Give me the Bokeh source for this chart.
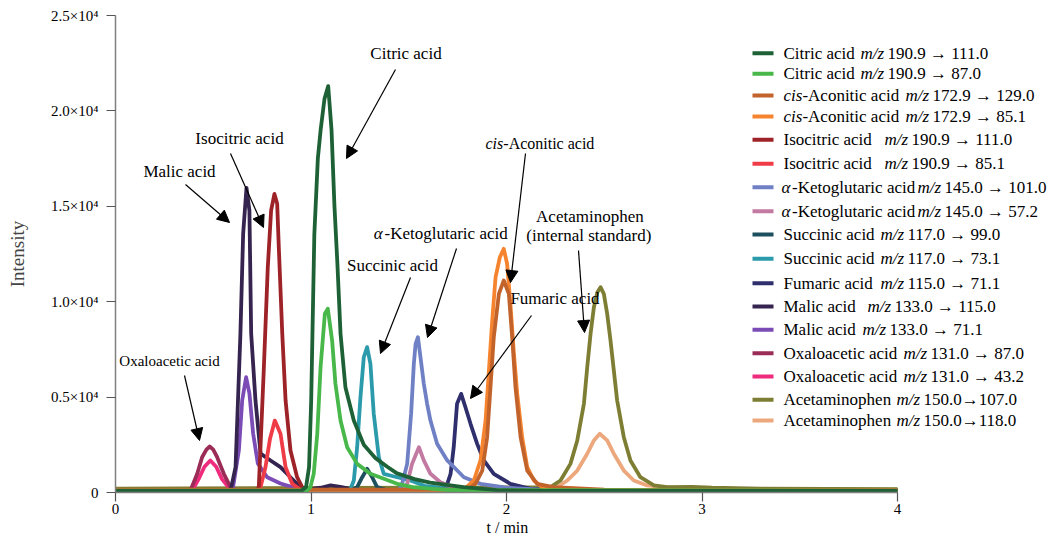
from bokeh.plotting import figure
from bokeh.models import Range1d, FixedTicker, Label, Arrow, NormalHead, Title
from bokeh.embed import file_html
from bokeh.resources import INLINE

# ---------------- data ----------------
names = ["Citric acid", "Citric acid", "cis-Aconitic acid", "cis-Aconitic acid",
         "Isocitric acid", "Isocitric acid", "α-Ketoglutaric acid", "α-Ketoglutaric acid",
         "Succinic acid", "Succinic acid", "Fumaric acid", "Malic acid", "Malic acid",
         "Oxaloacetic acid", "Oxaloacetic acid", "Acetaminophen", "Acetaminophen"]
transitions = ["190.9 → 111.0", "190.9 → 87.0", "172.9 → 129.0", "172.9 → 85.1",
               "190.9 → 111.0", "190.9 → 85.1", "145.0 → 101.0", "145.0 → 57.2",
               "117.0 → 99.0", "117.0 → 73.1", "115.0 → 71.1", "133.0 → 115.0",
               "133.0 → 71.1", "131.0 → 87.0", "131.0 → 43.2", "150.0→107.0", "150.0→118.0"]
colors = ["#1e6136", "#48b84a", "#c2632b", "#f6842f", "#9e2328", "#ef3c46", "#7080c5",
          "#c27aa2", "#1e4f5f", "#2b9bab", "#2e2f6c", "#35244f", "#7b4cb6", "#9b2c57",
          "#ee2b7c", "#7d7e33", "#eca87c"]

t_citric_111 = [0, 0.95, 0.975, 0.99, 1.001, 1.017, 1.035, 1.049, 1.069, 1.088, 1.105, 1.12, 1.135,
                1.151, 1.176, 1.219, 1.27, 1.33, 1.39, 1.44, 1.53, 1.61, 1.78, 1.95, 2.2, 4.0]
i_citric_111 = [80, 80, 300, 1330, 4820, 13500, 17500, 18970, 20630, 21300, 19000, 15000, 12000,
                8330, 5520, 3770, 2500, 1800, 1350, 1000, 700, 520, 280, 120, 80, 80]
t_citric_87 = [0, 0.98, 0.997, 1.014, 1.032, 1.049, 1.071, 1.086, 1.108, 1.125, 1.151, 1.185,
               1.236, 1.304, 1.441, 1.52, 1.7, 4.0]
i_citric_87 = [100, 100, 280, 980, 3075, 6570, 9370, 9630, 7970, 5700, 3770, 2370,
               1500, 980, 455, 280, 130, 100]
t_aco_129 = [0, 1.80, 1.841, 1.876, 1.901, 1.918, 1.935, 1.961, 1.986, 2.012, 2.029, 2.046,
             2.072, 2.106, 2.157, 2.24, 2.5, 4.0]
i_aco_129 = [150, 150, 455, 1150, 2900, 5520, 8140, 10410, 11110, 10410, 8140, 5520,
             2900, 1150, 455, 280, 150, 120]
t_aco_85 = [0, 1.78, 1.833, 1.867, 1.893, 1.910, 1.927, 1.944, 1.966, 1.986, 2.003, 2.020,
            2.038, 2.055, 2.080, 2.106, 2.140, 2.183, 2.4, 4.0]
i_aco_85 = [130, 130, 630, 1680, 3770, 6390, 9010, 11280, 12330, 12770, 11990, 9890,
            7270, 5170, 2900, 1330, 630, 280, 130, 120]
t_iso_111 = [0, 0.72, 0.733, 0.759, 0.779, 0.796, 0.813, 0.827, 0.836, 0.853, 0.870, 0.895,
             0.929, 0.955, 1.0, 4.0]
i_iso_111 = [100, 100, 280, 6570, 11810, 14780, 15650, 15130, 12680, 8330, 4820, 2200,
             800, 280, 100, 100]
t_iso_85 = [0, 0.73, 0.742, 0.767, 0.790, 0.815, 0.844, 0.870, 0.904, 0.946, 1.0, 4.0]
i_iso_85 = [100, 100, 280, 1326, 2800, 3770, 3075, 1326, 455, 150, 100, 100]
t_akg_101 = [0, 1.45, 1.466, 1.492, 1.512, 1.526, 1.535, 1.547, 1.560, 1.577, 1.594, 1.611,
             1.645, 1.697, 1.782, 1.867, 2.0, 2.2, 4.0]
i_akg_101 = [120, 120, 455, 1500, 4120, 6740, 7790, 8140, 7090, 5700, 4650, 3770,
             2550, 1680, 800, 455, 250, 130, 120]
t_akg_57 = [0, 1.47, 1.492, 1.517, 1.552, 1.577, 1.611, 1.662, 1.73, 1.9, 4.0]
i_akg_57 = [120, 120, 455, 1500, 2370, 1680, 980, 540, 280, 130, 120]
t_suc_99 = [0, 1.21, 1.236, 1.262, 1.287, 1.313, 1.338, 1.38, 4.0]
i_suc_99 = [120, 120, 280, 800, 1240, 800, 280, 150, 120]
t_suc_73 = [0, 1.19, 1.202, 1.219, 1.236, 1.253, 1.270, 1.287, 1.304, 1.321, 1.347, 1.372,
            1.441, 1.509, 1.58, 1.70, 1.9, 4.0]
i_suc_73 = [120, 120, 190, 630, 2370, 5000, 7090, 7620, 6740, 4120, 1850, 980,
            800, 630, 350, 200, 130, 120]
t_fum_71 = [0, 1.68, 1.697, 1.714, 1.730, 1.747, 1.768, 1.790, 1.816, 1.850, 1.884, 1.935,
            2.020, 2.123, 2.3, 4.0]
i_fum_71 = [120, 120, 455, 980, 2370, 4650, 5170, 4470, 3600, 2550, 1680, 980,
            455, 190, 120, 120]
t_mal_115 = [0, 0.58, 0.592, 0.614, 0.639, 0.653, 0.670, 0.685, 0.694, 0.716, 0.742, 0.793,
             0.844, 0.895, 0.946, 0.98, 1.05, 1.10, 1.15, 1.22, 1.3, 4.0]
i_mal_115 = [120, 120, 250, 1326, 8330, 13570, 15970, 14780, 8330, 4820, 2040, 1677,
             1326, 800, 280, 150, 250, 370, 300, 150, 120, 120]
t_mal_71 = [0, 0.59, 0.60, 0.631, 0.648, 0.668, 0.685, 0.704, 0.728, 0.776, 0.844, 0.929, 0.97, 4.0]
i_mal_71 = [120, 120, 200, 2200, 4820, 6043, 5190, 3090, 1520, 800, 470, 200, 120, 120]
t_oxa_87 = [0, 0.385, 0.418, 0.443, 0.465, 0.482, 0.50, 0.520, 0.554, 0.588, 0.62, 4.0]
i_oxa_87 = [120, 150, 980, 1850, 2250, 2410, 2250, 1850, 980, 280, 120, 120]
t_oxa_43 = [0, 0.395, 0.425, 0.455, 0.485, 0.515, 0.545, 0.58, 0.61, 4.0]
i_oxa_43 = [120, 150, 700, 1350, 1680, 1350, 700, 250, 120, 120]
t_ace_107 = [0, 2.225, 2.276, 2.327, 2.362, 2.396, 2.413, 2.430, 2.447, 2.465, 2.481, 2.498,
             2.515, 2.532, 2.549, 2.566, 2.600, 2.634, 2.685, 2.754, 2.822, 2.95, 3.05, 3.3, 4.0]
i_ace_107 = [200, 280, 630, 1500, 2730, 4650, 6570, 8320, 9710, 10500, 10760, 10410,
             9370, 7970, 6390, 4820, 2900, 1680, 800, 370, 280, 300, 250, 200, 180]
t_ace_118 = [0, 2.22, 2.259, 2.311, 2.362, 2.413, 2.447, 2.477, 2.515, 2.549, 2.600, 2.651,
             2.720, 2.8, 3.0, 4.0]
i_ace_118 = [150, 150, 280, 630, 1150, 2030, 2730, 3080, 2730, 2030, 1150, 630,
             370, 280, 180, 150]

times = [t_citric_111, t_citric_87, t_aco_129, t_aco_85, t_iso_111, t_iso_85, t_akg_101,
         t_akg_57, t_suc_99, t_suc_73, t_fum_71, t_mal_115, t_mal_71, t_oxa_87, t_oxa_43,
         t_ace_107, t_ace_118]
intens = [i_citric_111, i_citric_87, i_aco_129, i_aco_85, i_iso_111, i_iso_85, i_akg_101,
          i_akg_57, i_suc_99, i_suc_73, i_fum_71, i_mal_115, i_mal_71, i_oxa_87, i_oxa_43,
          i_ace_107, i_ace_118]

x_ticks = [0, 1, 2, 3, 4]
y_ticks = [0, 5000, 10000, 15000, 20000, 25000]
y_tick_labels = ["0", "0.5×10⁴", "1.0×10⁴", "1.5×10⁴", "2.0×10⁴", "2.5×10⁴"]
x_title = "t / min"

# ---------------- layout ----------------
FONT = "Liberation Serif"
W, H = 1048, 538
LEFT, TOP = 115, 15          # frame offsets inside figure (page has no margin)
FRAME_H = 477
X_PX_PER_MIN = 195.5
X_END = (W - LEFT) / X_PX_PER_MIN


def dx(px):   # page pixel -> data x
    return (px - LEFT) / X_PX_PER_MIN


def dy(py):   # page pixel -> data y
    return (TOP + FRAME_H - py) / FRAME_H * 25000


p = figure(width=W, height=H, output_backend="svg", toolbar_location=None,
           x_range=Range1d(0, X_END), y_range=Range1d(0, 25000),
           min_border_left=LEFT, min_border_top=TOP, min_border_right=0,
           min_border_bottom=H - TOP - FRAME_H)
p.title.visible = False
p.outline_line_color = None
p.xgrid.visible = False
p.ygrid.visible = False
p.background_fill_color = "white"
p.border_fill_color = "white"

for ax in (p.xaxis[0], p.yaxis[0]):
    ax.axis_line_color = "#7f7f7f"
    ax.axis_line_width = 1.5
    ax.major_tick_line_color = "#555555"
    ax.major_tick_line_width = 1.2
    ax.major_tick_out = 9
    ax.major_tick_in = 0
    ax.minor_tick_line_color = None
    ax.major_label_text_font = FONT
    ax.major_label_text_font_size = "15px"
    ax.major_label_text_color = "black"

p.xaxis.ticker = FixedTicker(ticks=x_ticks)
p.xaxis.bounds = (0, 4)
p.xaxis.major_label_standoff = 2
p.yaxis.ticker = FixedTicker(ticks=y_ticks)
p.yaxis.major_label_overrides = {v: s for v, s in zip(y_ticks, y_tick_labels)}
p.yaxis.major_label_standoff = 8
p.yaxis.axis_label = "Intensity"
p.yaxis.axis_label_text_font = FONT
p.yaxis.axis_label_text_font_size = "19px"
p.yaxis.axis_label_text_font_style = "normal"
p.yaxis.axis_label_standoff = 20

# x-axis title, placed under the axis and centred on t = 2
p.add_layout(Title(text=x_title, align="left", offset=371, standoff=0,
                   text_font=FONT, text_font_size="16px", text_font_style="normal",
                   text_color="black"), "below")

# traces (first legend entry drawn on top)
for t, i, c in reversed(list(zip(times, intens, colors))):
    p.line(t, i, line_color=c, line_width=3.8, line_join="round")


def lab(x, y, text, size="17px", style="normal", align="left"):
    p.add_layout(Label(x=x, y=y, text=text, text_font=FONT, text_font_size=size,
                       text_font_style=style, text_align=align, text_baseline="middle",
                       text_color="black"))


def arrow(x0, y0, x1, y1):
    p.add_layout(Arrow(end=NormalHead(size=12, fill_color="black", line_color="black"),
                       x_start=dx(x0), y_start=dy(y0), x_end=dx(x1), y_end=dy(y1),
                       line_color="black", line_width=1.2))


# peak annotations
lab(dx(405.5), dy(53), "Citric acid", align="center")
arrow(395, 69, 346, 158)
lab(dx(239), dy(138), "Isocitric acid", align="center")
arrow(230, 153, 263, 227)
lab(dx(179), dy(171), "Malic acid", align="center")
arrow(185, 184, 229, 222)
lab(dx(169), dy(360), "Oxaloacetic acid", "15px", align="center")
arrow(184, 375, 199, 440)
lab(dx(392), dy(265), "Succinic acid", align="center")
arrow(410, 277, 380, 353)
lab(dx(373.3), dy(233), "α", style="italic")
lab(dx(384), dy(233), "-Ketoglutaric acid")
arrow(456, 248, 427, 337)
lab(dx(485), dy(143), "cis", "16px", "italic")
lab(dx(502.8), dy(143), "-Aconitic acid", "16px")
arrow(525, 153, 510, 282)
lab(dx(589.4), dy(216), "Acetaminophen", align="center")
lab(dx(588.4), dy(235), "(internal standard)", align="center")
arrow(578, 250, 584, 332)
lab(dx(554.5), dy(298), "Fumaric acid", align="center")
arrow(531, 315, 470, 398)

# legend (manual, to keep italic m/z)
row_y = [52.7, 73.3, 95, 116, 139.3, 163.3, 186.7, 210.7, 234, 258.3,
         282.7, 306, 329.3, 352.7, 376, 399.3, 420]
mz_x = [860, 860, 905, 905, 884, 884, 917, 917, 880, 880, 880, 867, 862, 903, 903, 896, 896]
p.segment(x0=[dx(752)] * len(row_y), y0=[dy(v) for v in row_y],
          x1=[dx(773)] * len(row_y), y1=[dy(v) for v in row_y],
          line_color=colors, line_width=4)
for name, tr, yy, mx in zip(names, transitions, row_y, mz_x):
    if name.startswith("cis-"):
        lab(dx(783), dy(yy), "cis", style="italic")
        lab(dx(801.9), dy(yy), name[3:])
    elif name.startswith("α-"):
        lab(dx(781), dy(yy), "α", style="italic")
        lab(dx(791.5), dy(yy), name[1:])
    else:
        lab(dx(783), dy(yy), name)
    lab(dx(mx), dy(yy), "m/z", style="italic")
    lab(dx(mx + 27), dy(yy), tr)

open("out.html", "w").write(file_html(p, INLINE))
